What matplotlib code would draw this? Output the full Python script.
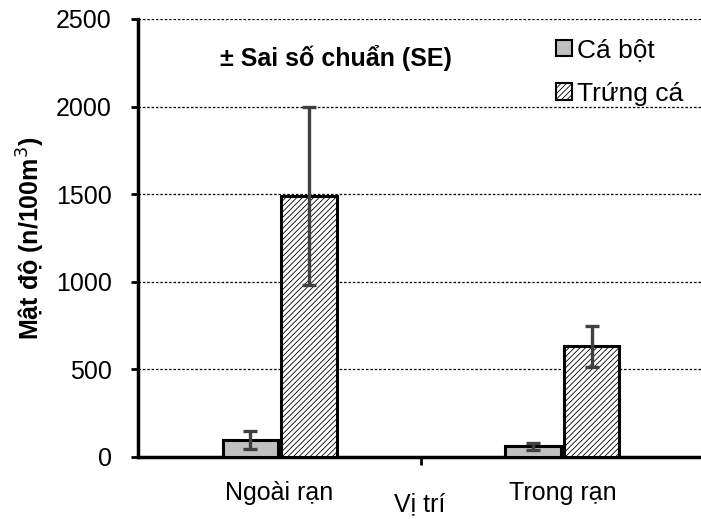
import numpy as np
import matplotlib
matplotlib.use("Agg")
import matplotlib.pyplot as plt

plt.rcParams['font.family'] = ['Liberation Sans', 'DejaVu Sans']
plt.rcParams['hatch.color'] = '#a8a8a8'
plt.rcParams['hatch.linewidth'] = 0.6

# data
locations = ['Ngoài rạn', 'Trong rạn']
series = ['Cá bột', 'Trứng cá']
ca_bot = [97, 62]
ca_bot_se = [52, 20]
trung_ca = [1490, 633]
trung_ca_se = [510, 117]
yticks = [0, 500, 1000, 1500, 2000, 2500]

fig = plt.figure(figsize=(7.01, 5.19), dpi=100)
ax = fig.add_axes([0.197, 0.1195, 0.803, 0.8439])

x = np.arange(len(locations))
w = 0.195
off = 0.104

ax.bar(x - off, ca_bot, w, color='#c0c0c0', edgecolor='black', linewidth=2.2, zorder=3)
ax.bar(x + off, trung_ca, w, color='white', edgecolor='black', linewidth=2.2,
       hatch='//////', zorder=3)
ax.errorbar(x - off, ca_bot, yerr=ca_bot_se, fmt='none', ecolor='#404040',
            elinewidth=2.4, capsize=5, capthick=2.4, zorder=4)
ax.errorbar(x + off, trung_ca, yerr=trung_ca_se, fmt='none', ecolor='#404040',
            elinewidth=2.4, capsize=5, capthick=2.4, zorder=4)

ax.set_xlim(-0.5, 1.49)
ax.set_ylim(0, 2500)
ax.set_yticks(yticks)
ax.set_yticklabels([str(v) for v in yticks], fontsize=18)
ax.yaxis.grid(True, linestyle=(0, (2, 1.5)), color='black', linewidth=0.9)
ax.set_axisbelow(True)

# category labels, with boundary tick between them
ax.set_xticks([0.5])
ax.set_xticklabels([''])
ax.tick_params(axis='x', length=6, width=2, direction='out')
ax.tick_params(axis='y', length=5, width=2, direction='out', pad=14)
for xi, name in zip(x, locations):
    ax.text(xi, -0.055, name, transform=ax.get_xaxis_transform(),
            ha='center', va='top', fontsize=18)
ax.set_xlabel('Vị trí', fontsize=18, labelpad=16)

for s in ['top', 'right']:
    ax.spines[s].set_visible(False)
ax.spines['left'].set_linewidth(2.5)
ax.spines['bottom'].set_linewidth(2.5)

ax.set_ylabel('Mật độ (n/100m$^3$)', fontsize=18, fontweight='bold', labelpad=6)

ax.text(0.145, 0.91, '± Sai số chuẩn (SE)', transform=ax.transAxes,
        fontsize=18, fontweight='bold', ha='left', va='center')

handles = [
    plt.Rectangle((0, 0), 1, 1, facecolor='#c0c0c0', edgecolor='black', linewidth=1.5),
    plt.Rectangle((0, 0), 1, 1, facecolor='white', edgecolor='black', linewidth=1.5, hatch='//////'),
]
ax.legend(handles, series, loc='upper left', bbox_to_anchor=(0.70, 1.01),
          frameon=False, fontsize=19, handlelength=0.6, handleheight=0.6,
          handletextpad=0.2, labelspacing=0.75)

fig.savefig('out.png', dpi=100)
